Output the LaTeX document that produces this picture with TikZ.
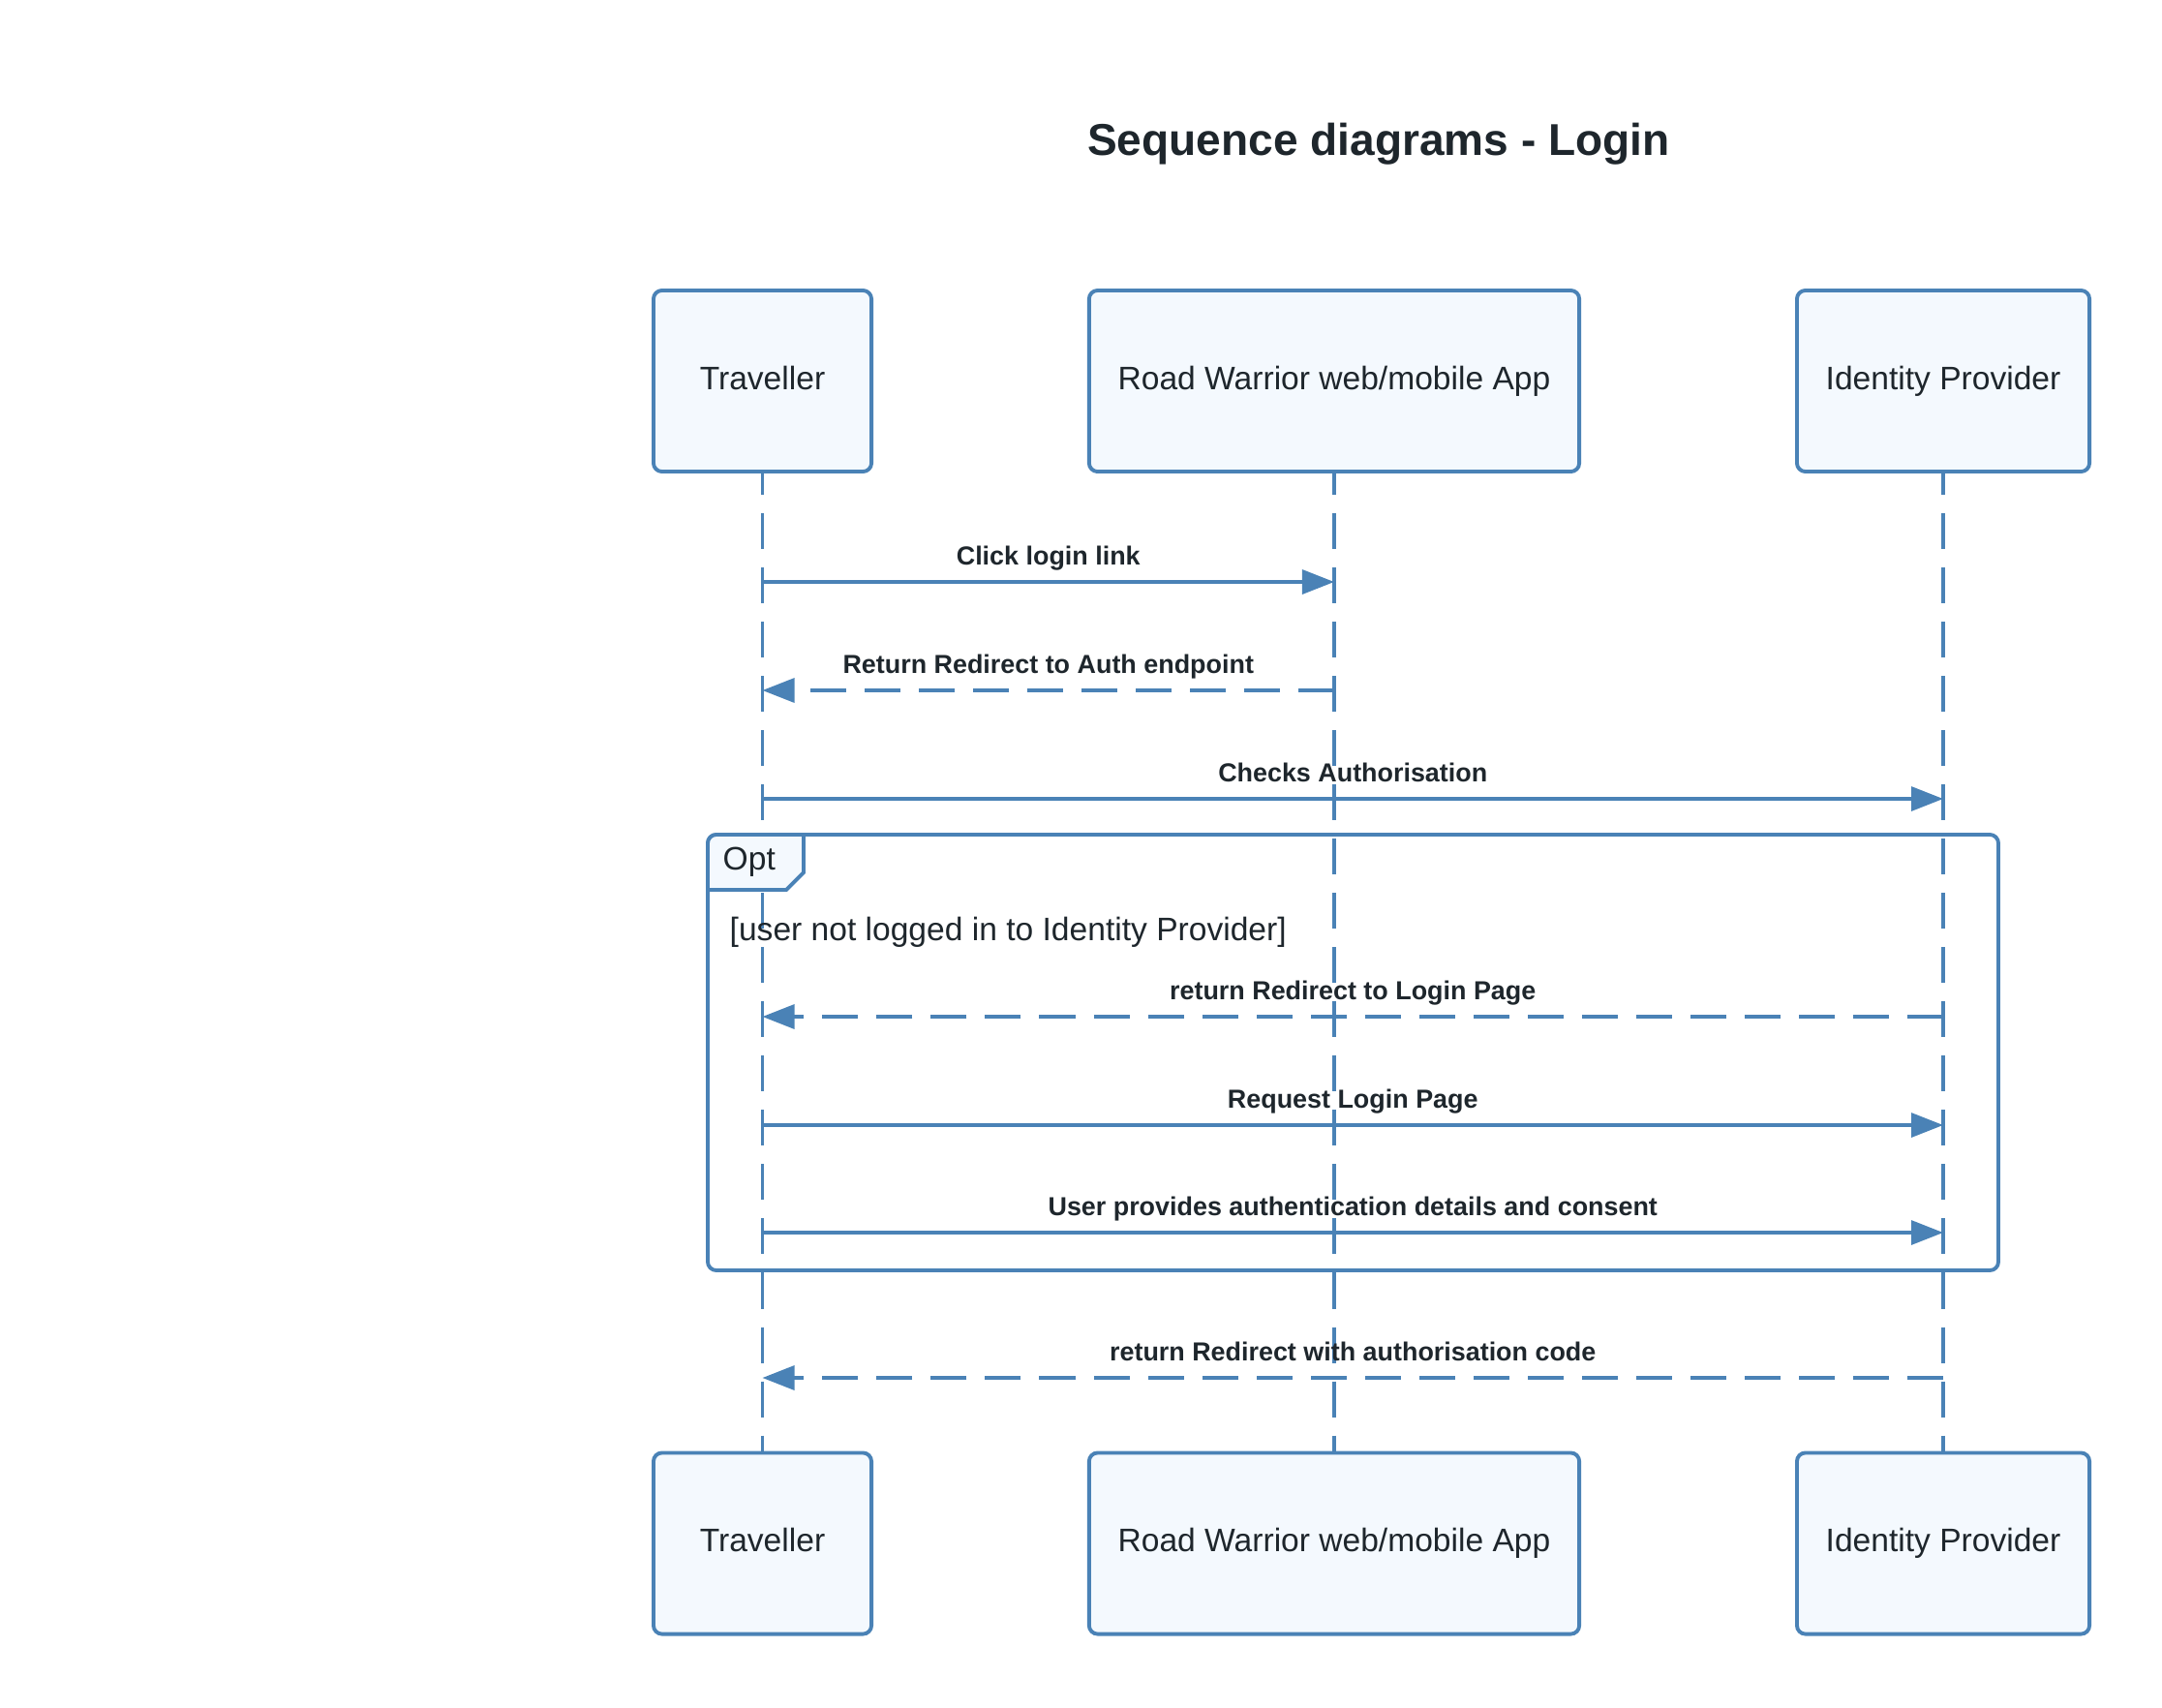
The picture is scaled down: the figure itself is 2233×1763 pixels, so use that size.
\documentclass[tikz,border=0pt]{standalone}
\usepackage{fontspec}
\setmainfont{Liberation Sans}
\usetikzlibrary{arrows.meta,positioning}

\definecolor{lineblue}{HTML}{4A82B6}
\definecolor{boxfill}{HTML}{F4F9FE}
\definecolor{inkdark}{HTML}{1E262C}

\tikzset{
	actor/.style={draw=lineblue, line width=1.1pt, fill=boxfill, rounded corners=2.5pt,
		minimum height=1.87cm, inner sep=0pt, text=inkdark, font=\fontsize{9.55}{11}\selectfont},
	lifeline/.style={draw=lineblue, line width=0.9pt, dash pattern=on 0.37cm off 0.19cm, dash phase=0.15cm},
	msg/.style={draw=lineblue, line width=0.9pt, -{Triangle[length=0.33cm,width=0.25cm]}},
	reply/.style={msg, dash pattern=on 0.37cm off 0.19cm},
	msglbl/.style={midway, anchor=base, yshift=0.175cm, inner sep=0pt, text=inkdark,
		font=\bfseries\fontsize{7.65}{9}\selectfont},
	plain/.style={text=inkdark, inner sep=0pt, font=\fontsize{9.55}{11}\selectfont}
}

\begin{document}
\begin{tikzpicture}[x=0.01cm, y=-0.01cm]
			\useasboundingbox (0,0) rectangle (2233,1763);
			\node[anchor=base, text=inkdark, font=\bfseries\fontsize{13.1}{15}\selectfont] (title) at (1424,160) {Sequence diagrams - Login};
			
			% participants, top and bottom
			\node[actor, minimum width=2.25cm] (trv) at (787.5,393.5) {Traveller\vphantom{y}};
			\node[actor, minimum width=5.06cm] (app) at (1378,393.5) {Road Warrior web/mobile App};
			\node[actor, minimum width=3.02cm] (idp) at (2007,393.5) {Identity Provider};
			\node[actor, minimum width=2.25cm] (trvB) at (787.5,1594) {Traveller\vphantom{y}};
			\node[actor, minimum width=5.06cm] (appB) at (1378,1594) {Road Warrior web/mobile App};
			\node[actor, minimum width=3.02cm] (idpB) at (2007,1594) {Identity Provider};
			
			\draw[lifeline] (trv.south) -- (trvB.north);
			\draw[lifeline] (app.south) -- (appB.north);
			\draw[lifeline] (idp.south) -- (idpB.north);
			
			% opt fragment
			\draw[draw=lineblue, line width=1.1pt, rounded corners=2.5pt] (731,862) rectangle (2064,1312);
			\filldraw[draw=lineblue, fill=boxfill, line width=1.1pt] (731,919) -- (731,872) [rounded corners=2.5pt] -- (731,862) [sharp corners] -- (830,862) -- (830,901) -- (812,919) -- cycle;
			\node[plain, anchor=base west] (opt) at (746,898) {Opt};
			\node[plain, anchor=base west] (guard) at (753,971) {[user not logged in to Identity Provider]};
			
			% message rows
			\coordinate (r1) at (0,601); \coordinate (r2) at (0,713);
			\coordinate (r3) at (0,825); \coordinate (r4) at (0,1050);
			\coordinate (r5) at (0,1162); \coordinate (r6) at (0,1273);
			\coordinate (r7) at (0,1423);
			
			\draw[msg] (trv |- r1) -- node[msglbl] {Click login link} (app |- r1);
			\draw[reply] (app |- r2) -- node[msglbl] {Return Redirect to Auth endpoint} (trv |- r2);
			\draw[msg] (trv |- r3) -- node[msglbl] {Checks Authorisation} (idp |- r3);
			\draw[reply] (idp |- r4) -- node[msglbl] {return Redirect to Login Page} (trv |- r4);
			\draw[msg] (trv |- r5) -- node[msglbl] {Request Login Page} (idp |- r5);
			\draw[msg] (trv |- r6) -- node[msglbl] {User provides authentication details and consent} (idp |- r6);
			\draw[reply] (idp |- r7) -- node[msglbl] {return Redirect with authorisation code} (trv |- r7);
\end{tikzpicture}
\end{document}
